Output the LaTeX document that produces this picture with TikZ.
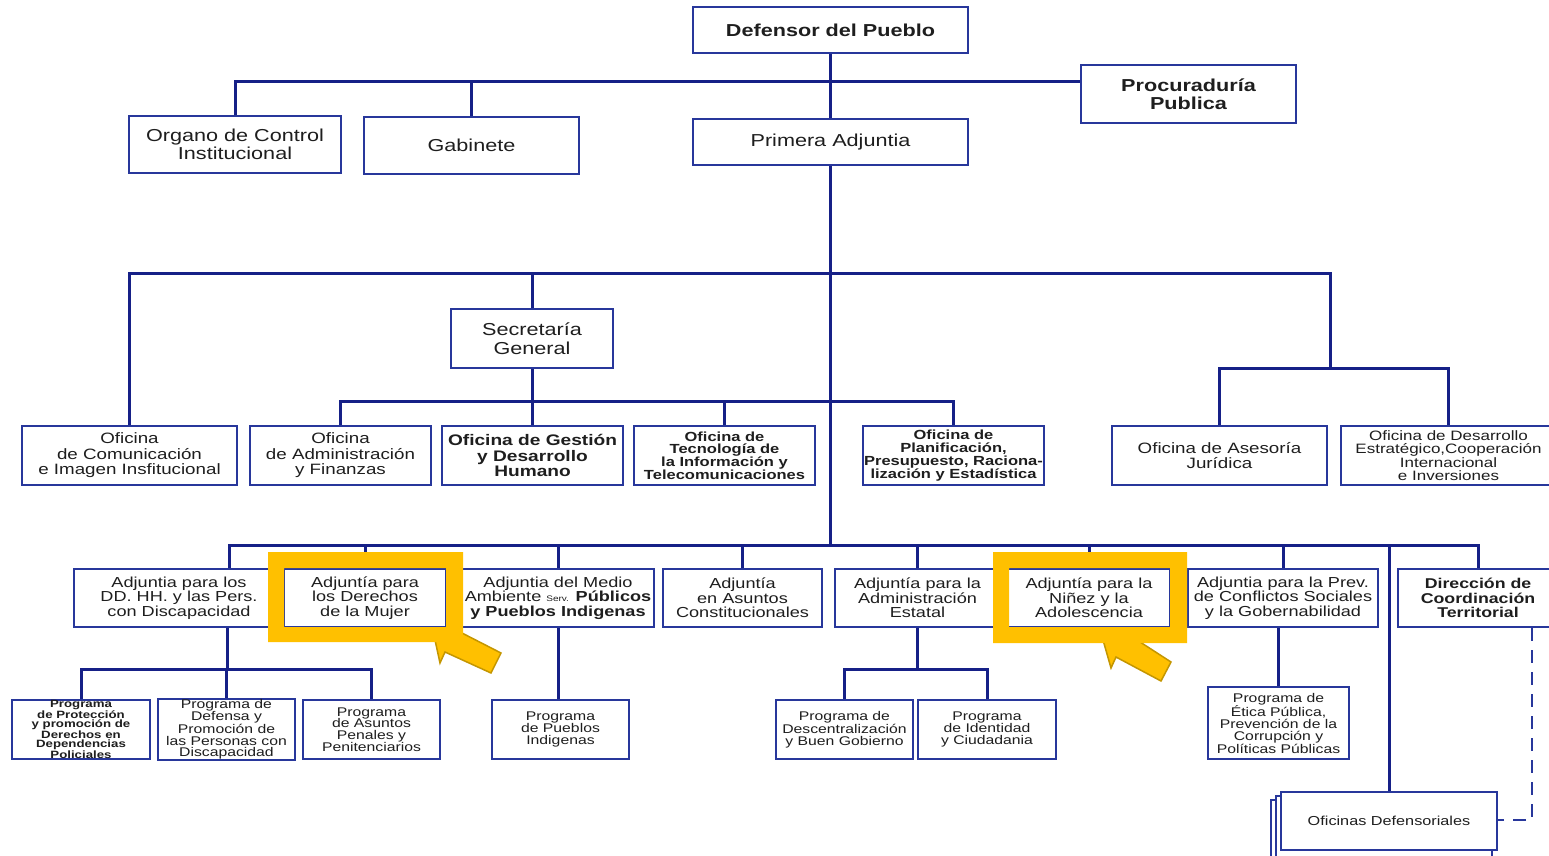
\documentclass[tikz,border=0pt]{standalone}
\usepackage{fontspec}
\setmainfont[FakeStretch=1.25]{Liberation Sans}
\definecolor{bxc}{RGB}{40,55,155}
\definecolor{lnc}{RGB}{22,32,135}
\definecolor{yel}{RGB}{255,192,0}
\definecolor{yeld}{RGB}{196,150,0}
\definecolor{txt}{RGB}{30,30,30}
\newcommand\bx[7][]{\node[box,#1,minimum width={#5-#3},minimum height={#6-#4}] (#2) at ({(#3+#5)/2},{(#4+#6)/2}) {#7};}
\tikzset{
  box/.style={draw=bxc, line width=2pt, fill=white, inner sep=0pt, align=center, text=txt},
  ln/.style={draw=lnc, line width=3pt},
  dln/.style={draw=bxc, line width=1.8pt, dash pattern=on 13pt off 9pt},
  fA/.style={font=\fontsize{17.3}{18.5}\selectfont},
  fAb/.style={font=\bfseries\fontsize{17.3}{18}\selectfont},
  fB/.style={font=\fontsize{15}{15.5}\selectfont},
  fBb/.style={font=\bfseries\fontsize{15.3}{15.5}\selectfont},
  fC/.style={font=\bfseries\fontsize{13.2}{12.8}\selectfont},
  fCr/.style={font=\fontsize{13.6}{13.5}\selectfont},
  fD/.style={font=\fontsize{14.5}{14.7}\selectfont},
  fDb/.style={font=\bfseries\fontsize{14.2}{14.5}\selectfont},
  fE/.style={font=\fontsize{12.6}{11.8}\selectfont},
  fF/.style={font=\bfseries\fontsize{10.6}{9}\selectfont},
  fG/.style={font=\fontsize{13}{13}\selectfont},
  hl/.style={fill=yel},
  hlarrow/.style={fill=yel, draw=yeld, line width=1.5pt, line join=miter}
}
\begin{document}
\begin{tikzpicture}[x=1pt,y=-1pt]
\useasboundingbox (0,0) rectangle (1549,855);
\fill[white] (0,0) rectangle (1549,855);

% stacked shadows of Oficinas Defensoriales
\draw[box] (1271,800) rectangle (1487,860);
\draw[box] (1276,796) rectangle (1492,857);

% level 0/1
\bx[fAb]{def}{693}{7}{968}{53}{Defensor del Pueblo}
\bx[fAb]{proc}{1081}{65}{1296}{123}{Procuraduría\\Publica}
\bx[fA]{oci}{129}{116}{341}{173}{Organo de Control\\Institucional}
\bx[fA]{gab}{364}{117}{579}{174}{Gabinete}
\bx[fA]{pa}{693}{119}{968}{165}{Primera Adjuntia}
\bx[fA]{sec}{451}{309}{613}{368}{Secretaría\\General}

% oficinas
\bx[fB]{ocom}{22}{426}{237}{485}{Oficina\\de Comunicación\\e Imagen Insfitucional}
\bx[fB]{oadm}{250}{426}{431}{485}{Oficina\\de Administración\\y Finanzas}
\bx[fBb]{ogdh}{442}{426}{623}{485}{Oficina de Gestión\\y Desarrollo\\Humano}
\bx[fC]{otec}{634}{426}{815}{485}{Oficina de\\Tecnología de\\la Información y\\Telecomunicaciones}
\bx[fC]{oplan}{863}{426}{1044}{485}{Oficina de\\Planificación,\\Presupuesto, Raciona-\\lización y Estadística}
\bx[fB]{oase}{1112}{426}{1327}{485}{Oficina de Asesoría\\Jurídica}
\bx[fCr]{odes}{1341}{426}{1556}{485}{Oficina de Desarrollo\\Estratégico,Cooperación\\Internacional\\e Inversiones}

% adjuntias
\bx[fD]{ddhh}{74}{569}{284}{627}{Adjuntia para los\\DD. HH. y las Pers.\\con Discapacidad}
\bx[fD]{muj}{284}{569}{446}{627}{Adjuntía para\\los Derechos\\de la Mujer}
\bx[fD]{med}{462}{569}{654}{627}{Adjuntia del Medio\\Ambiente {\fontsize{8}{8}\selectfont Serv.} \textbf{Públicos}\\\textbf{y Pueblos Indigenas}}
\bx[fD]{asc}{663}{569}{822}{627}{Adjuntía\\en Asuntos\\Constitucionales}
\bx[fD]{adm}{835}{569}{1000}{627}{Adjuntía para la\\Administración\\Estatal}
\bx[fD]{nin}{1008}{569}{1170}{627}{Adjuntía para la\\Niñez y la\\Adolescencia}
\bx[fD]{prev}{1188}{569}{1378}{627}{Adjuntia para la Prev.\\de Conflictos Sociales\\y la Gobernabilidad}
\bx[fDb]{dct}{1398}{569}{1558}{627}{Dirección de\\Coordinación\\Territorial}

% programas
\bx[fF]{pprot}{12}{700}{150}{759}{Programa\\de Protección\\y promoción de\\Derechos en\\Dependencias\\Policiales}
\bx[fE]{pdef}{158}{700}{295}{759}{Programa de\\Defensa y\\Promoción de\\las Personas con\\Discapacidad}
\bx[fE]{ppen}{303}{700}{440}{759}{Programa\\de Asuntos\\Penales y\\Penitenciarios}
\bx[fE]{ppue}{492}{700}{629}{759}{Programa\\de Pueblos\\Indigenas}
\bx[fE]{pdesc}{776}{700}{913}{759}{Programa de\\Descentralización\\y Buen Gobierno}
\bx[fE]{pid}{918}{700}{1056}{759}{Programa\\de Identidad\\y Ciudadania}
\bx[fE]{petica}{1208}{687}{1349}{759}{Programa de\\Ética Pública,\\Prevención de la\\Corrupción y\\Políticas Públicas}
\bx[fG]{odef}{1281}{792}{1497}{850}{Oficinas Defensoriales}

% junction coordinates
\coordinate (b0) at (830,81);
\coordinate (b1) at (829,273);
\coordinate (b1r) at (1330,368);
\coordinate (b2) at (532,401);
\coordinate (b3) at (229,545);
\coordinate (b4) at (227,669);
\coordinate (b5) at (917,669);
\coordinate (bD) at (1532,820);

% connectors
\draw[ln] (def) -- (pa);
\draw[ln] (oci.north) |- (proc.west |- b0);
\draw[ln] (gab.north) -- (gab.north |- b0);
\draw[ln] (pa.south) -- (pa.south |- b3);
\draw[ln] (ocom.north) |- (b1r |- b1) -- (b1r);
\draw[ln] (oase.north) |- (b1r) -| (odes.north);
\draw[ln] (sec.north) -- (sec.north |- b1);
\draw[ln] (sec.south) -- (sec.south |- ogdh.north);
\draw[ln] (oadm.north) |- (oplan.north |- b2) -- (oplan.north);
\draw[ln] (otec.north) -- (otec.north |- b2);
\draw[ln] (ddhh.north -| b3) |- (dct.north |- b3) -- (dct.north);
\foreach \n in {muj,med,asc,adm,nin,prev,odef} \draw[ln] (\n.north) -- (\n.north |- b3);
\draw[ln] (ddhh.south -| b4) -- (b4);
\draw[ln] (pprot.north) |- (b4) -| (ppen.north);
\draw[ln] (pdef.north) -- (pdef.north |- b4);
\draw[ln] (med.south) -- (med.south |- ppue.north);
\draw[ln] (adm.south) -- (adm.south |- b5);
\draw[ln] (pdesc.north) |- (b5) -| (pid.north);
\draw[ln] (petica.north) -- (petica.north |- prev.south);
\draw[dln] (dct.south -| bD) -- (bD) -- (odef.east |- bD);

% highlights
\draw[hlarrow] (435,640) -- (440,663) -- (445,652) -- (491,673) -- (501,653) -- (462,633) -- cycle;
\fill[hl, even odd rule] (268,552) rectangle (463,642) (284,568) rectangle (446,627);
\draw[hlarrow] (1103,640) -- (1111,668) -- (1116,657) -- (1161,681) -- (1171,662) -- (1137,640) -- cycle;
\fill[hl, even odd rule] (993,552) rectangle (1187,643) (1009,568) rectangle (1170,627);
\end{tikzpicture}
\end{document}
